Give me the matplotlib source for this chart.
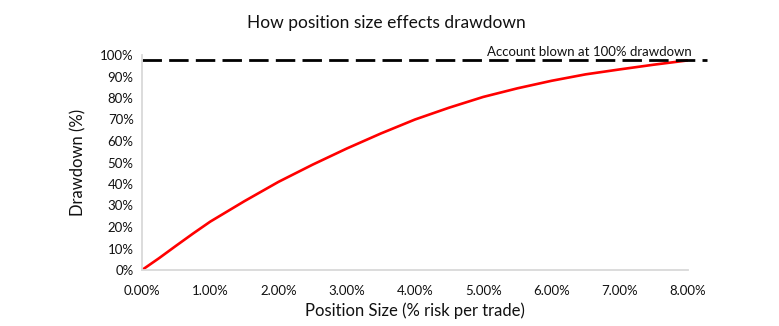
import matplotlib
matplotlib.use("Agg")
import matplotlib.pyplot as plt
from matplotlib.ticker import FuncFormatter

position_size = [0.0, 0.25, 0.5, 0.75, 1.0, 1.5, 2.0, 2.5, 3.0, 3.5, 4.0, 4.5, 5.0, 5.5, 6.0, 6.5, 7.0, 7.5, 8.0]
drawdown = [0.0, 5.5, 11.3, 17.0, 22.5, 32.0, 41.0, 49.0, 56.5, 63.5, 70.0, 75.5, 80.5, 84.5, 88.0, 91.0, 93.3, 95.5, 97.5]
blown_level = 97.7
x_ticks = [0, 1, 2, 3, 4, 5, 6, 7, 8]
y_ticks = [0, 10, 20, 30, 40, 50, 60, 70, 80, 90, 100]

plt.rcParams['font.family'] = ['Lato', 'DejaVu Sans']

fig = plt.figure(figsize=(7.79, 3.26), dpi=100)
ax = fig.add_axes([142/779, 56/326, (688-142)/779, (270-55)/326])

ax.plot(position_size, drawdown, color='#ff0000', lw=1.9, solid_capstyle='round',
        solid_joinstyle='round')
ax.plot([0, 8.28], [blown_level, blown_level], color='black', lw=2.0,
        dashes=(7, 2.6), clip_on=False)
ax.text(8.06, blown_level + 0.8, 'Account blown at 100% drawdown', ha='right', va='bottom',
        fontsize=9.5, color='#111111')

ax.set_xlim(0, 8)
ax.set_ylim(0, 100)
ax.set_xticks(x_ticks)
ax.set_yticks(y_ticks)
ax.xaxis.set_major_formatter(FuncFormatter(lambda v, p: f"{v:.2f}%"))
ax.yaxis.set_major_formatter(FuncFormatter(lambda v, p: f"{v:.0f}%"))
ax.tick_params(axis='both', length=0, labelsize=9.5, colors='#111111')
ax.tick_params(axis='x', pad=11)
ax.tick_params(axis='y', pad=6)

for s in ['top', 'right']:
    ax.spines[s].set_visible(False)
for s in ['left', 'bottom']:
    ax.spines[s].set_color('#d9d9d9')
    ax.spines[s].set_linewidth(1.3)

ax.set_xlabel('Position Size (% risk per trade)', fontsize=12, labelpad=4, color='#111111')
ax.set_ylabel('Drawdown (%)', fontsize=12, labelpad=10, color='#111111')
fig.text(0.496, 0.93, 'How position size effects drawdown', ha='center', va='center',
         fontsize=12.5, color='#111111')

fig.savefig('out.png', dpi=100)
